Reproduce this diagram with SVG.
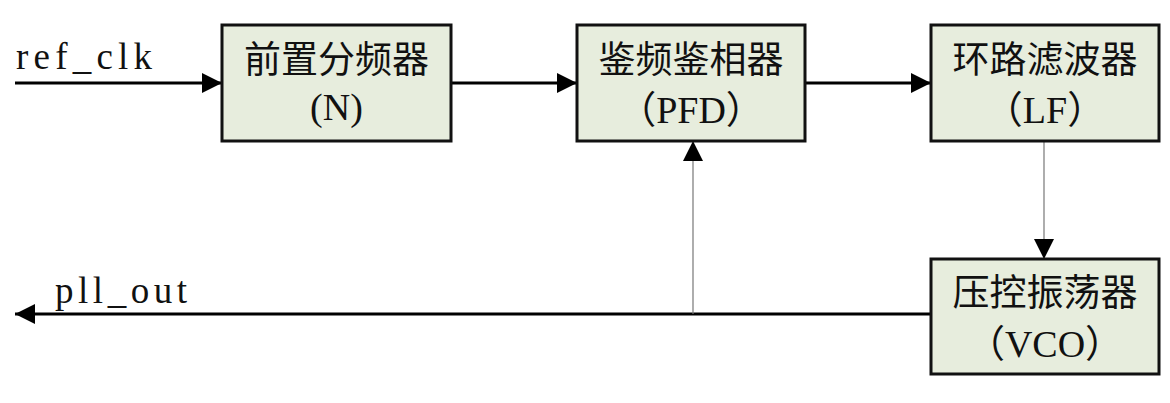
<svg xmlns="http://www.w3.org/2000/svg" width="1170" height="403" viewBox="0 0 1170 403">
  <defs>
    <marker id="arrow" markerUnits="userSpaceOnUse" markerWidth="20" markerHeight="20" refX="20" refY="10" orient="auto" viewBox="0 0 20 20">
      <path d="M0,0 L20,10 L0,20 Z" fill="#000"/>
    </marker>
    <style>
      .box { fill: #e7eddd; stroke: #111; stroke-width: 3; }
      .cn { font-family: "Noto Sans CJK SC", sans-serif; font-size: 37px; fill: #111; text-anchor: middle; }
      .en { font-family: "Liberation Serif", "Noto Sans CJK SC", serif; font-size: 38px; fill: #111; text-anchor: middle; }
      .sig { font-family: "Liberation Serif", serif; font-size: 37px; fill: #111; }
      .thick { stroke: #000; stroke-width: 3; fill: none; }
      .thin { stroke: #777; stroke-width: 1.2; fill: none; }
    </style>
  </defs>

  <g id="connectors">
    <line class="thick" x1="15" y1="83" x2="222" y2="83" marker-end="url(#arrow)"/>
    <line class="thick" x1="451" y1="83" x2="577" y2="83" marker-end="url(#arrow)"/>
    <line class="thick" x1="805" y1="83" x2="931" y2="83" marker-end="url(#arrow)"/>
    <line class="thin" x1="1044" y1="141" x2="1044" y2="259" marker-end="url(#arrow)"/>
    <line class="thick" x1="931" y1="314" x2="15" y2="314" marker-end="url(#arrow)"/>
    <line class="thin" x1="693" y1="314" x2="693" y2="141" marker-end="url(#arrow)"/>
  </g>

  <g id="label-ref_clk">
    <text class="sig" x="16" y="69" textLength="136" lengthAdjust="spacing">ref_clk</text>
  </g>
  <g id="label-pll_out">
    <text class="sig" x="55" y="303" textLength="132" lengthAdjust="spacing">pll_out</text>
  </g>

  <g id="node-divider">
    <rect class="box" x="222" y="25" width="229" height="116"/>
    <text class="cn" x="336.5" y="73">前置分频器</text>
    <text class="en" x="336.5" y="120">(N)</text>
  </g>

  <g id="node-pfd">
    <rect class="box" x="577" y="25" width="228" height="116"/>
    <text class="cn" x="691" y="73">鉴频鉴相器</text>
    <text class="en" x="691" y="123">（PFD）</text>
  </g>

  <g id="node-lf">
    <rect class="box" x="931" y="25" width="228" height="116"/>
    <text class="cn" x="1045" y="73">环路滤波器</text>
    <text class="en" x="1045" y="123">（LF）</text>
  </g>

  <g id="node-vco">
    <rect class="box" x="931" y="259" width="228" height="115"/>
    <text class="cn" x="1045" y="306">压控振荡器</text>
    <text class="en" x="1045" y="357">（VCO）</text>
  </g>
</svg>
